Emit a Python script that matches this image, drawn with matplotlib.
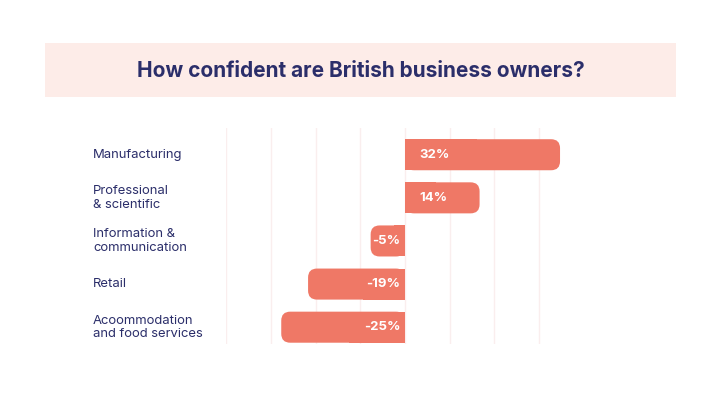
import matplotlib
matplotlib.use("Agg")
import matplotlib.pyplot as plt
from matplotlib.patches import FancyBboxPatch, Rectangle

# data
categories = ["Manufacturing", "Professional\n& scientific", "Information &\ncommunication",
              "Retail", "Acoommodation\nand food services"]
values = [32, 14, -5, -19, -25]
value_labels = ["32%", "14%", "-5%", "-19%", "-25%"]
grid_ticks = [-40, -30, -20, -10, 0, 10, 20, 30]

NAVY = "#2B2E6A"
BAR = "#EF7866"
BAND = "#FDECE8"
GRID = "#FAEEEE"

plt.rcParams["font.family"] = ["Inter", "DejaVu Sans"]

W, H = 720, 397
PX = 4.47  # px per percentage point
fig = plt.figure(figsize=(W / 100, H / 100), dpi=100)
fig.patch.set_facecolor("white")

# title band
fig.patches.append(Rectangle((45 / W, 1 - 97 / H), 631 / W, 54 / H, transform=fig.transFigure,
                             facecolor=BAND, edgecolor="none", zorder=0))
fig.text(361 / W, 1 - 71 / H, "How confident are British business owners?", ha="center", va="center",
         fontsize=15, fontweight="bold", color=NAVY)

# axes: zero at x=405 px
left_px, right_px = 405 - 40 * PX, 405 + 40 * PX
top_px, bot_px = 128, 344
ax = fig.add_axes([left_px / W, 1 - bot_px / H, (right_px - left_px) / W, (bot_px - top_px) / H])
ax.set_xlim(-40, 40)
ax.set_ylim(4.39, -0.62)
for s in ax.spines.values():
    s.set_visible(False)
ax.set_xticks(grid_ticks)
ax.set_yticks([])
ax.tick_params(axis="x", length=0, labelbottom=False)
ax.grid(axis="x", color=GRID, lw=1)
ax.set_axisbelow(True)

bars = ax.barh(range(len(values)), values, height=0.72, color=BAR)
r_x = 9 / PX            # corner radius in % units
cap = 12 / PX           # rounded cap past the value end
aspect = (9 / 43.25) / r_x
for b in bars:
    x0, y0, w, h = b.get_x(), b.get_y(), b.get_width(), b.get_height()
    if w >= 0:
        lo, hi = x0, x0 + w + cap
    else:
        lo, hi = x0 + w - cap, x0
    ax.add_patch(FancyBboxPatch((lo, y0), hi - lo, h, boxstyle=f"round,pad=0,rounding_size={r_x}",
                                mutation_aspect=aspect, facecolor=BAR, edgecolor="none", zorder=2))
    # square end at zero
    ax.add_patch(Rectangle((x0, y0), w / 2, h, facecolor=BAR, edgecolor="none", zorder=2))
    b.set_visible(False)

for i, (v, lab) in enumerate(zip(values, value_labels)):
    if v >= 0:
        ax.annotate(lab, (0, i), xytext=(10, 0), textcoords="offset points", ha="left", va="center",
                    color="white", fontsize=9.5, fontweight="bold", zorder=3)
    else:
        ax.annotate(lab, (0, i), xytext=(-3.5, 0), textcoords="offset points", ha="right", va="center",
                    color="white", fontsize=9.5, fontweight="bold", zorder=3)

lab_x = (93 - left_px) / (right_px - left_px)
for i, c in enumerate(categories):
    ax.text(lab_x, i, c, transform=ax.get_yaxis_transform(), ha="left", va="center",
            fontsize=9.4, color=NAVY, linespacing=1.15)

fig.savefig("out.png", dpi=100)
